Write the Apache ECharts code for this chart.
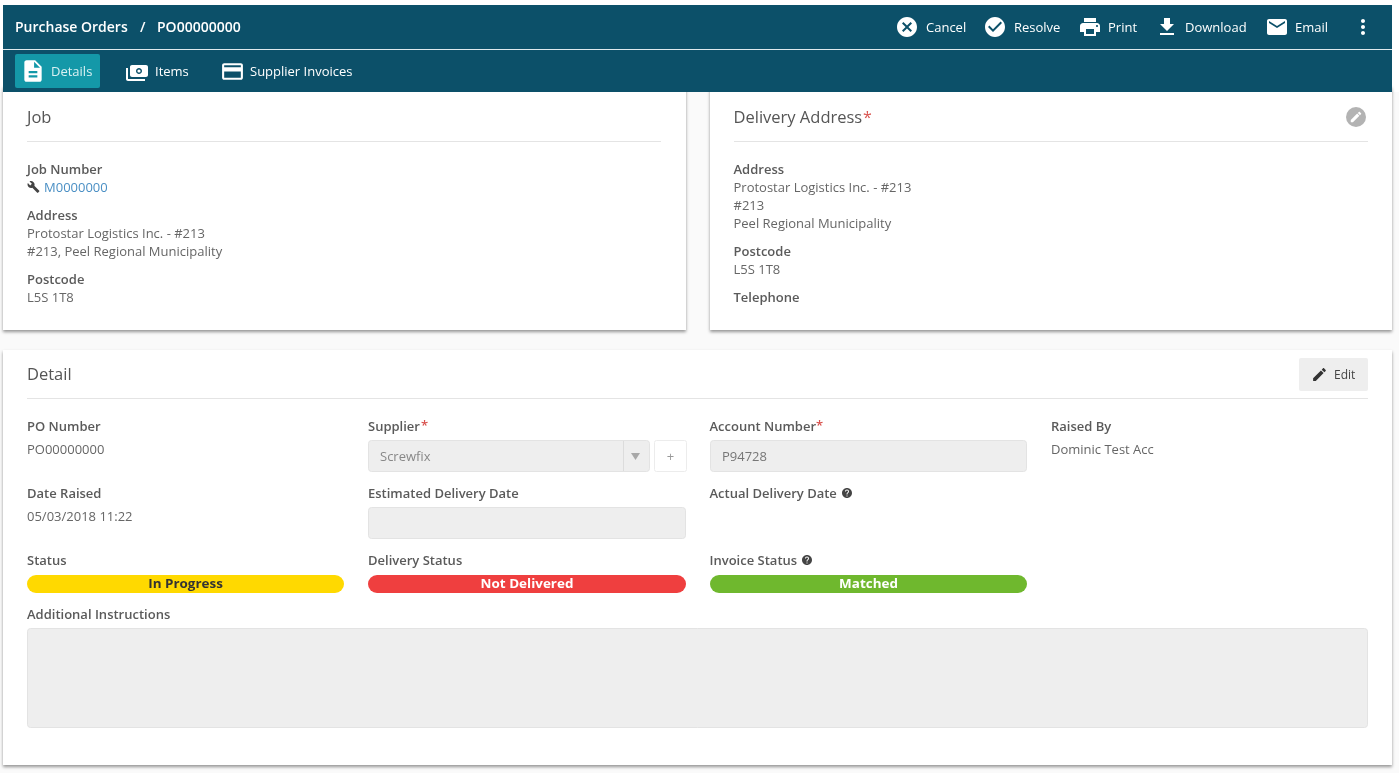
<!DOCTYPE html>
<html>
<head>
<meta charset="utf-8">
<style>
  html, body { margin: 0; padding: 0; background: #fff; }
  #main { width: 1399px; height: 773px; }
</style>
<script src="https://cdn.jsdelivr.net/npm/echarts@6/dist/echarts.min.js"></script>
</head>
<body>
<div id="main"></div>
<script>
// content
var crumbs = ['Purchase Orders', '/', 'PO00000000'];
var actions = ['Cancel', 'Resolve', 'Print', 'Download', 'Email'];
var tabs = ['Details', 'Items', 'Supplier Invoices'];
var jobLabels = ['Job Number', 'Address', 'Postcode'];
var jobValues = ['M0000000', 'Protostar Logistics Inc. - #213', '#213, Peel Regional Municipality', 'L5S 1T8'];
var deliveryLabels = ['Address', 'Postcode', 'Telephone'];
var deliveryValues = ['Protostar Logistics Inc. - #213', '#213', 'Peel Regional Municipality', 'L5S 1T8'];
var statusLabels = ['Status', 'Delivery Status', 'Invoice Status'];
var statusValues = ['In Progress', 'Not Delivered', 'Matched'];

var FONT = '"Open Sans", sans-serif';
var ICONS = {
  cancel: 'M12 2C6.47 2 2 6.47 2 12s4.47 10 10 10 10-4.47 10-10S17.53 2 12 2zm5 13.59L15.59 17 12 13.41 8.41 17 7 15.59 10.59 12 7 8.41 8.41 7 12 10.59 15.59 7 17 8.41 13.41 12 17 15.59z',
  check: 'M12 2C6.48 2 2 6.48 2 12s4.48 10 10 10 10-4.48 10-10S17.52 2 12 2zm-2 15l-5-5 1.41-1.41L10 14.17l7.59-7.59L19 8l-9 9z',
  print: 'M19 8H5c-1.66 0-3 1.34-3 3v6h4v4h12v-4h4v-6c0-1.66-1.34-3-3-3zm-3 11H8v-5h8v5zm3-7c-.55 0-1-.45-1-1s.45-1 1-1 1 .45 1 1-.45 1-1 1zm-1-9H6v4h12V3z',
  download: 'M19 9h-4V3H9v6H5l7 7 7-7zM5 18v2h14v-2H5z',
  email: 'M20 4H4c-1.1 0-1.99.9-1.99 2L2 18c0 1.1.9 2 2 2h16c1.1 0 2-.9 2-2V6c0-1.1-.9-2-2-2zm0 4l-8 5-8-5V6l8 5 8-5v2z',
  more: 'M12 8c1.1 0 2-.9 2-2s-.9-2-2-2-2 .9-2 2 .9 2 2 2zm0 2c-1.1 0-2 .9-2 2s.9 2 2 2 2-.9 2-2-.9-2-2-2zm0 6c-1.1 0-2 .9-2 2s.9 2 2 2 2-.9 2-2-.9-2-2-2z',
  doc: 'M14 2H6c-1.1 0-1.99.9-1.99 2L4 20c0 1.1.89 2 1.99 2H18c1.1 0 2-.9 2-2V8l-6-6zm2 16H8v-2h8v2zm0-4H8v-2h8v2zm-3-5V3.5L18.5 9H13z',
  money: 'M19 14V6c0-1.1-.9-2-2-2H3c-1.1 0-2 .9-2 2v8c0 1.1.9 2 2 2h14c1.1 0 2-.9 2-2zm-9-1c-1.66 0-3-1.34-3-3s1.34-3 3-3 3 1.34 3 3-1.34 3-3 3zm13-6v11c0 1.1-.9 2-2 2H4v-2h17V7h2z',
  card: 'M20 4H4c-1.11 0-1.99.89-1.99 2L2 18c0 1.11.89 2 2 2h16c1.11 0 2-.89 2-2V6c0-1.11-.89-2-2-2zm0 14H4v-6h16v6zm0-10H4V6h16v2z',
  edit: 'M3 17.25V21h3.75L17.81 9.94l-3.75-3.75L3 17.25zM20.71 7.04c.39-.39.39-1.02 0-1.41l-2.34-2.34c-.39-.39-1.02-.39-1.41 0l-1.83 1.83 3.75 3.75 1.83-1.83z',
  wrench: 'M22.7 19l-9.1-9.1c.9-2.3.4-5-1.5-6.9-2-2-5-2.4-7.4-1.3L9 6 6 9 1.6 4.7C.4 7.1.9 10.1 2.9 12.1c1.9 1.9 4.6 2.4 6.9 1.5l9.1 9.1c.4.4 1 .4 1.4 0l2.3-2.3c.5-.4.5-1.1.1-1.4z',
  help: 'M12 2C6.48 2 2 6.48 2 12s4.48 10 10 10 10-4.48 10-10S17.52 2 12 2zm1 17h-2v-2h2v2zm2.07-7.75l-.9.92C13.45 12.9 13 13.5 13 15h-2v-.5c0-1.1.45-2.1 1.17-2.83l1.24-1.26c.37-.36.59-.86.59-1.41 0-1.1-.9-2-2-2s-2 .9-2 2H8c0-2.21 1.79-4 4-4s4 1.79 4 4c0 .88-.36 1.68-.93 2.25z'
};
// the graphic component only knows registered shape types
Object.keys(ICONS).forEach(function (name) {
  echarts.graphic.registerShape('icon_' + name, echarts.graphic.extendPath(ICONS[name], {}));
});

var els = [];

function box(x, y, w, h, fill, r, extra) {
  var style = { fill: fill };
  for (var k in extra) style[k] = extra[k];
  els.push({ type: 'rect', shape: { x: x, y: y, width: w, height: h, r: r || 0 }, style: style });
}
function txt(x, y, text, size, color, weight, align, stretch) {
  els.push({
    type: 'text', x: x, y: y + 1, scaleX: stretch || 1,
    style: {
      text: text, fill: color, fontSize: size, fontFamily: FONT,
      fontWeight: weight || 400, align: align || 'left', verticalAlign: 'middle'
    }
  });
}
function icon(name, x, y, size, color, mirror) {
  var s = size / 24;
  els.push({ type: 'icon_' + name, x: x, y: y, scaleX: mirror ? -s : s, scaleY: s, style: { fill: color } });
}
function label(x, y, text) { txt(x, y, text, 13, '#5a5a5a', 600); }
function value(x, y, text) { txt(x, y, text, 13, '#666', 400); }
function star(x, y) { txt(x, y, '*', 13, '#d9534f', 600); }
function hr(x, y, w) { box(x, y, w, 1, '#e4e4e4'); }
function field(x, y, w, h) { box(x, y, w, h, '#eeeeee', 3, { stroke: '#e3e3e3', lineWidth: 1 }); }

var NAVY = '#0c5069';
var WHITE = '#fff';
var CARD_SHADOW = { shadowBlur: 3, shadowOffsetY: 2, shadowColor: 'rgba(0,0,0,0.4)' };

// page and cards
box(0, 92, 1399, 681, '#fafafa');
box(3, 86, 683, 244, WHITE, 0, CARD_SHADOW);
box(710, 86, 682, 244, WHITE, 0, CARD_SHADOW);
box(3, 350, 1389, 415, WHITE, 0, CARD_SHADOW);

// header bar
box(3, 5, 1389, 87, NAVY);
box(3, 49, 1389, 1, '#dfe9ed');
txt(15, 27, crumbs[0], 14, WHITE, 600);
txt(140, 27, crumbs[1], 14, WHITE, 600);
txt(157, 27, crumbs[2], 14, WHITE, 600);

var actionIcons = ['cancel', 'check', 'print', 'download', 'email'];
var actionIconX = [895, 983, 1078, 1155, 1265];
var actionTextX = [926, 1014, 1108, 1185, 1295];
actions.forEach(function (a, i) {
  icon(actionIcons[i], actionIconX[i], 15, 24, WHITE);
  txt(actionTextX[i], 27, a, 13, WHITE, 400);
});
icon('more', 1351, 15, 24, WHITE);

// tabs
box(15, 54, 85, 34, '#1498a8', 2);
icon('doc', 20, 58, 26, WHITE);
txt(51, 71, tabs[0], 13, '#d8f0f2', 400);
icon('money', 149, 61, 24, WHITE, true);
els.push({ type: 'circle', shape: { cx: 139, cy: 71, r: 1.6 }, style: { fill: WHITE } });
txt(155, 71, tabs[1], 13, WHITE, 400);
icon('card', 220, 59, 25, WHITE);
txt(250, 71, tabs[2], 13, WHITE, 400);

// job card
txt(27, 117.5, 'Job', 16.5, '#555', 400);
hr(27, 141, 634);
label(27, 169, jobLabels[0]);
icon('wrench', 27, 180.5, 13, '#444');
txt(44, 187, jobValues[0], 13, '#4a8fc4', 400);
label(27, 215, jobLabels[1]);
value(27, 233, jobValues[1]);
value(27, 251, jobValues[2]);
label(27, 279, jobLabels[2]);
value(27, 297, jobValues[3]);

// delivery card
txt(733.5, 117.5, 'Delivery Address', 16.5, '#555', 400);
txt(863, 117, '*', 16, '#d9534f', 400);
els.push({ type: 'circle', shape: { cx: 1356, cy: 117, r: 10 }, style: { fill: '#b3b3b3' } });
icon('edit', 1349, 110, 14, WHITE);
hr(734, 141, 634);
label(733.5, 169, deliveryLabels[0]);
value(733.5, 187, deliveryValues[0]);
value(733.5, 205, deliveryValues[1]);
value(733.5, 223, deliveryValues[2]);
label(733.5, 251, deliveryLabels[1]);
value(733.5, 269, deliveryValues[3]);
label(733.5, 297, deliveryLabels[2]);

// detail card
txt(27, 374.5, 'Detail', 16.5, '#555', 400);
box(1299, 358, 69, 33, '#eeeeee', 2);
icon('edit', 1311, 366, 17, '#333');
txt(1334, 375, 'Edit', 12, '#444', 400);
hr(27, 398, 1341);

label(27, 426, 'PO Number');
value(27, 449, 'PO00000000');
label(368, 426, 'Supplier');
star(421, 425);
field(368.5, 440.5, 281, 31);
box(623, 441, 1, 30, '#dcdcdc');
txt(380, 456, 'Screwfix', 13, '#888', 400);
els.push({ type: 'polygon', shape: { points: [[631, 453], [640, 453], [635.5, 460]] }, style: { fill: '#a8a8a8' } });
box(654.5, 440.5, 32, 31, WHITE, 2, { stroke: '#ececec', lineWidth: 1 });
txt(670.5, 456, '+', 13, '#999', 400, 'center');
label(709.5, 426, 'Account Number');
star(816, 425);
field(710.5, 440.5, 316, 31);
txt(722, 456, 'P94728', 13, '#777', 400);
label(1051, 426, 'Raised By');
value(1051, 449, 'Dominic Test Acc');

label(27, 493, 'Date Raised');
value(27, 516, '05/03/2018 11:22');
label(368, 493, 'Estimated Delivery Date');
field(368.5, 507.5, 317, 31);
label(709.5, 493, 'Actual Delivery Date');
icon('help', 841, 487, 12, '#444');

var pillX = [27, 368, 710];
var pillW = [317, 318, 317];
var pillFill = ['#ffd900', '#ef3f3f', '#6fb82e'];
var pillText = ['#333', '#fff', '#fff'];
statusLabels.forEach(function (s, i) {
  label(pillX[i] - (i == 2 ? 0.5 : 0), 560, s);
  box(pillX[i], 575, pillW[i], 18, pillFill[i], 9);
  // the original pills use wide letter spacing
  txt(pillX[i] + pillW[i] / 2, 584, statusValues[i], 12, pillText[i], 700, 'center', 1.12);
});
icon('help', 801, 554, 12, '#444');

label(27, 614, 'Additional Instructions');
field(27.5, 628.5, 1340, 99);

var chart = echarts.init(document.getElementById('main'));
chart.setOption({ animation: false, graphic: { elements: els } });
</script>
</body>
</html>
